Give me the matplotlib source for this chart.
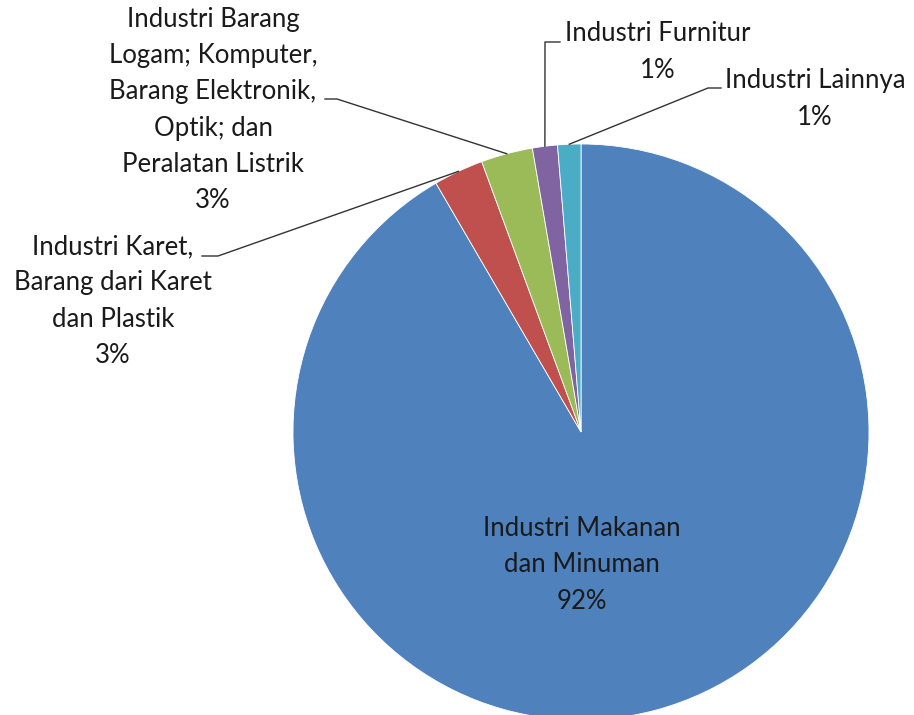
import numpy as np
import matplotlib
matplotlib.use("Agg")
import matplotlib.pyplot as plt

categories = [
    "Industri Makanan\ndan Minuman",
    "Industri Karet,\nBarang dari Karet\ndan Plastik",
    "Industri Barang\nLogam; Komputer,\nBarang Elektronik,\nOptik; dan\nPeralatan Listrik",
    "Industri Furnitur",
    "Industri Lainnya",
]
values = [91.6, 2.8, 2.9, 1.4, 1.3]
colors = ["#4F81BD", "#C0504D", "#9BBB59", "#8064A2", "#4BACC6"]

W, H = 914, 715
fig = plt.figure(figsize=(W / 100, H / 100), dpi=100)
ax = fig.add_axes([0, 0, 1, 1])

cx, cy, R = 581, H - 432, 288
wedges, _ = ax.pie(values, colors=colors, startangle=90, counterclock=False,
                   center=(cx, cy), radius=R, frame=True,
                   wedgeprops=dict(edgecolor="white", linewidth=0.6))
ax.set_xlim(0, W)
ax.set_ylim(0, H)
ax.axis("off")

total = sum(values)
pct = [f"{v / total * 100:.0f}%" for v in values]
font = dict(family=["Lato", "DejaVu Sans"], fontsize=18.5, color="#1a1a1a",
            linespacing=1.57, ha="center", va="center")

# label layout: (text center x, text center y in pixels, elbow points in pixels)
layout = [
    (582, 565, None),
    (113, 301, [(218, 256), (202, 256)]),
    (213, 110, [(337, 99), (325, 99)]),
    (658, 52, [(545, 42), (560, 42)]),
    (815, 99, [(708, 88), (721, 88)]),
]

for w, cat, p, (tx, ty, elbows) in zip(wedges, categories, pct, layout):
    ax.text(tx, H - ty, f"{cat}\n{p}", **font)
    if elbows:
        mid = np.deg2rad((w.theta1 + w.theta2) / 2)
        x0 = cx + R * np.cos(mid)
        y0 = cy + R * np.sin(mid)
        xs = [x0] + [e[0] for e in elbows]
        ys = [y0] + [H - e[1] for e in elbows]
        ax.plot(xs, ys, color="#333333", lw=1.0)

fig.savefig("out.png", dpi=100)
